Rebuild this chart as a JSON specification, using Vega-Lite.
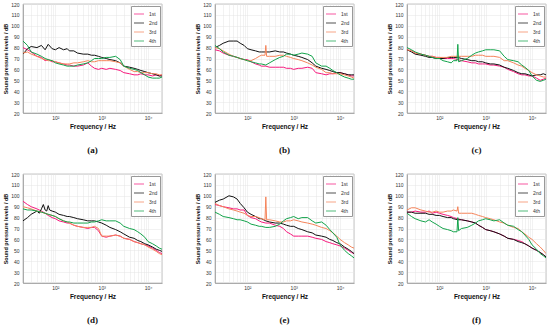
{
"$schema":"https://vega.github.io/schema/vega-lite/v6.json",
"padding":{"left":3,"top":1,"right":3,"bottom":2},
"background":"white",
"columns":3,
"spacing":{"row":16,"column":32},
"resolve":{"legend":{"color":"independent"}},
"data":{"values":[
{"p":"a","s":"1st","f":20,"v":80},{"p":"a","s":"1st","f":25,"v":78},{"p":"a","s":"1st","f":30,"v":76},{"p":"a","s":"1st","f":40,"v":72},{"p":"a","s":"1st","f":50,"v":71},{"p":"a","s":"1st","f":60,"v":68},{"p":"a","s":"1st","f":70,"v":69},{"p":"a","s":"1st","f":85,"v":67},{"p":"a","s":"1st","f":100,"v":67},{"p":"a","s":"1st","f":120,"v":66},{"p":"a","s":"1st","f":150,"v":65},{"p":"a","s":"1st","f":180,"v":64},{"p":"a","s":"1st","f":200,"v":64},{"p":"a","s":"1st","f":250,"v":63},{"p":"a","s":"1st","f":300,"v":63},{"p":"a","s":"1st","f":400,"v":64},{"p":"a","s":"1st","f":500,"v":66},{"p":"a","s":"1st","f":600,"v":63},{"p":"a","s":"1st","f":700,"v":61},{"p":"a","s":"1st","f":850,"v":60},{"p":"a","s":"1st","f":1000,"v":61},{"p":"a","s":"1st","f":1250,"v":60},{"p":"a","s":"1st","f":1500,"v":61},{"p":"a","s":"1st","f":2000,"v":60},{"p":"a","s":"1st","f":2500,"v":59},{"p":"a","s":"1st","f":3000,"v":57},{"p":"a","s":"1st","f":4000,"v":56},{"p":"a","s":"1st","f":5000,"v":55},{"p":"a","s":"1st","f":6000,"v":55},{"p":"a","s":"1st","f":7000,"v":56},{"p":"a","s":"1st","f":8500,"v":55},{"p":"a","s":"1st","f":10000,"v":55},{"p":"a","s":"1st","f":12500,"v":54},{"p":"a","s":"1st","f":15000,"v":55},{"p":"a","s":"1st","f":17500,"v":54},{"p":"a","s":"1st","f":20000,"v":55},
{"p":"a","s":"2nd","f":20,"v":74},{"p":"a","s":"2nd","f":25,"v":79},{"p":"a","s":"2nd","f":30,"v":81},{"p":"a","s":"2nd","f":40,"v":80},{"p":"a","s":"2nd","f":50,"v":82},{"p":"a","s":"2nd","f":60,"v":78},{"p":"a","s":"2nd","f":70,"v":83},{"p":"a","s":"2nd","f":85,"v":79},{"p":"a","s":"2nd","f":100,"v":78},{"p":"a","s":"2nd","f":120,"v":80},{"p":"a","s":"2nd","f":150,"v":78},{"p":"a","s":"2nd","f":180,"v":79},{"p":"a","s":"2nd","f":200,"v":77},{"p":"a","s":"2nd","f":250,"v":77},{"p":"a","s":"2nd","f":300,"v":75},{"p":"a","s":"2nd","f":400,"v":74},{"p":"a","s":"2nd","f":500,"v":74},{"p":"a","s":"2nd","f":600,"v":73},{"p":"a","s":"2nd","f":700,"v":73},{"p":"a","s":"2nd","f":850,"v":72},{"p":"a","s":"2nd","f":1000,"v":71},{"p":"a","s":"2nd","f":1250,"v":70},{"p":"a","s":"2nd","f":1500,"v":69},{"p":"a","s":"2nd","f":2000,"v":68},{"p":"a","s":"2nd","f":2500,"v":66},{"p":"a","s":"2nd","f":3000,"v":63},{"p":"a","s":"2nd","f":4000,"v":62},{"p":"a","s":"2nd","f":5000,"v":61},{"p":"a","s":"2nd","f":6000,"v":60},{"p":"a","s":"2nd","f":7000,"v":59},{"p":"a","s":"2nd","f":8500,"v":58},{"p":"a","s":"2nd","f":10000,"v":57},{"p":"a","s":"2nd","f":12500,"v":56},{"p":"a","s":"2nd","f":15000,"v":55},{"p":"a","s":"2nd","f":17500,"v":54},{"p":"a","s":"2nd","f":20000,"v":54},
{"p":"a","s":"3rd","f":20,"v":75},{"p":"a","s":"3rd","f":25,"v":76},{"p":"a","s":"3rd","f":30,"v":74},{"p":"a","s":"3rd","f":40,"v":72},{"p":"a","s":"3rd","f":50,"v":70},{"p":"a","s":"3rd","f":60,"v":69},{"p":"a","s":"3rd","f":70,"v":68},{"p":"a","s":"3rd","f":85,"v":68},{"p":"a","s":"3rd","f":100,"v":67},{"p":"a","s":"3rd","f":120,"v":66},{"p":"a","s":"3rd","f":150,"v":65},{"p":"a","s":"3rd","f":180,"v":65},{"p":"a","s":"3rd","f":200,"v":65},{"p":"a","s":"3rd","f":250,"v":66},{"p":"a","s":"3rd","f":300,"v":66},{"p":"a","s":"3rd","f":400,"v":67},{"p":"a","s":"3rd","f":500,"v":68},{"p":"a","s":"3rd","f":600,"v":67},{"p":"a","s":"3rd","f":700,"v":67},{"p":"a","s":"3rd","f":850,"v":68},{"p":"a","s":"3rd","f":1000,"v":68},{"p":"a","s":"3rd","f":1250,"v":68},{"p":"a","s":"3rd","f":1500,"v":68},{"p":"a","s":"3rd","f":2000,"v":67},{"p":"a","s":"3rd","f":2500,"v":66},{"p":"a","s":"3rd","f":3000,"v":63},{"p":"a","s":"3rd","f":4000,"v":60},{"p":"a","s":"3rd","f":5000,"v":58},{"p":"a","s":"3rd","f":6000,"v":58},{"p":"a","s":"3rd","f":7000,"v":57},{"p":"a","s":"3rd","f":8500,"v":57},{"p":"a","s":"3rd","f":10000,"v":57},{"p":"a","s":"3rd","f":12500,"v":56},{"p":"a","s":"3rd","f":15000,"v":56},{"p":"a","s":"3rd","f":17500,"v":55},{"p":"a","s":"3rd","f":20000,"v":55},
{"p":"a","s":"4th","f":20,"v":86},{"p":"a","s":"4th","f":25,"v":82},{"p":"a","s":"4th","f":30,"v":76},{"p":"a","s":"4th","f":40,"v":74},{"p":"a","s":"4th","f":50,"v":72},{"p":"a","s":"4th","f":60,"v":70},{"p":"a","s":"4th","f":70,"v":69},{"p":"a","s":"4th","f":85,"v":68},{"p":"a","s":"4th","f":100,"v":66},{"p":"a","s":"4th","f":120,"v":65},{"p":"a","s":"4th","f":150,"v":64},{"p":"a","s":"4th","f":180,"v":63},{"p":"a","s":"4th","f":200,"v":63},{"p":"a","s":"4th","f":250,"v":63},{"p":"a","s":"4th","f":300,"v":64},{"p":"a","s":"4th","f":400,"v":65},{"p":"a","s":"4th","f":500,"v":66},{"p":"a","s":"4th","f":600,"v":68},{"p":"a","s":"4th","f":700,"v":70},{"p":"a","s":"4th","f":850,"v":70},{"p":"a","s":"4th","f":1000,"v":70},{"p":"a","s":"4th","f":1250,"v":71},{"p":"a","s":"4th","f":1500,"v":71},{"p":"a","s":"4th","f":2000,"v":72},{"p":"a","s":"4th","f":2500,"v":69},{"p":"a","s":"4th","f":3000,"v":63},{"p":"a","s":"4th","f":4000,"v":61},{"p":"a","s":"4th","f":5000,"v":60},{"p":"a","s":"4th","f":6000,"v":59},{"p":"a","s":"4th","f":7000,"v":57},{"p":"a","s":"4th","f":8500,"v":55},{"p":"a","s":"4th","f":10000,"v":53},{"p":"a","s":"4th","f":12500,"v":52},{"p":"a","s":"4th","f":15000,"v":52},{"p":"a","s":"4th","f":17500,"v":52},{"p":"a","s":"4th","f":20000,"v":53},
{"p":"b","s":"1st","f":20,"v":78},{"p":"b","s":"1st","f":25,"v":77},{"p":"b","s":"1st","f":30,"v":75},{"p":"b","s":"1st","f":40,"v":73},{"p":"b","s":"1st","f":50,"v":72},{"p":"b","s":"1st","f":60,"v":71},{"p":"b","s":"1st","f":70,"v":70},{"p":"b","s":"1st","f":85,"v":69},{"p":"b","s":"1st","f":100,"v":69},{"p":"b","s":"1st","f":120,"v":67},{"p":"b","s":"1st","f":150,"v":65},{"p":"b","s":"1st","f":180,"v":64},{"p":"b","s":"1st","f":200,"v":63},{"p":"b","s":"1st","f":250,"v":63},{"p":"b","s":"1st","f":300,"v":62},{"p":"b","s":"1st","f":400,"v":62},{"p":"b","s":"1st","f":500,"v":62},{"p":"b","s":"1st","f":600,"v":62},{"p":"b","s":"1st","f":700,"v":61},{"p":"b","s":"1st","f":850,"v":61},{"p":"b","s":"1st","f":1000,"v":60},{"p":"b","s":"1st","f":1250,"v":61},{"p":"b","s":"1st","f":1500,"v":61},{"p":"b","s":"1st","f":2000,"v":62},{"p":"b","s":"1st","f":2500,"v":61},{"p":"b","s":"1st","f":3000,"v":57},{"p":"b","s":"1st","f":4000,"v":56},{"p":"b","s":"1st","f":5000,"v":55},{"p":"b","s":"1st","f":6000,"v":56},{"p":"b","s":"1st","f":7000,"v":56},{"p":"b","s":"1st","f":8500,"v":57},{"p":"b","s":"1st","f":10000,"v":57},{"p":"b","s":"1st","f":12500,"v":56},{"p":"b","s":"1st","f":15000,"v":55},{"p":"b","s":"1st","f":17500,"v":54},{"p":"b","s":"1st","f":20000,"v":54},
{"p":"b","s":"2nd","f":20,"v":80},{"p":"b","s":"2nd","f":25,"v":82},{"p":"b","s":"2nd","f":30,"v":84},{"p":"b","s":"2nd","f":40,"v":86},{"p":"b","s":"2nd","f":50,"v":86},{"p":"b","s":"2nd","f":60,"v":86},{"p":"b","s":"2nd","f":70,"v":84},{"p":"b","s":"2nd","f":85,"v":82},{"p":"b","s":"2nd","f":100,"v":79},{"p":"b","s":"2nd","f":120,"v":78},{"p":"b","s":"2nd","f":150,"v":77},{"p":"b","s":"2nd","f":180,"v":76},{"p":"b","s":"2nd","f":200,"v":76},{"p":"b","s":"2nd","f":250,"v":76},{"p":"b","s":"2nd","f":300,"v":76},{"p":"b","s":"2nd","f":400,"v":77},{"p":"b","s":"2nd","f":500,"v":76},{"p":"b","s":"2nd","f":600,"v":76},{"p":"b","s":"2nd","f":700,"v":75},{"p":"b","s":"2nd","f":850,"v":74},{"p":"b","s":"2nd","f":1000,"v":73},{"p":"b","s":"2nd","f":1250,"v":72},{"p":"b","s":"2nd","f":1500,"v":71},{"p":"b","s":"2nd","f":2000,"v":69},{"p":"b","s":"2nd","f":2500,"v":66},{"p":"b","s":"2nd","f":3000,"v":63},{"p":"b","s":"2nd","f":4000,"v":61},{"p":"b","s":"2nd","f":5000,"v":60},{"p":"b","s":"2nd","f":6000,"v":59},{"p":"b","s":"2nd","f":7000,"v":58},{"p":"b","s":"2nd","f":8500,"v":57},{"p":"b","s":"2nd","f":10000,"v":57},{"p":"b","s":"2nd","f":12500,"v":56},{"p":"b","s":"2nd","f":15000,"v":55},{"p":"b","s":"2nd","f":17500,"v":55},{"p":"b","s":"2nd","f":20000,"v":55},
{"p":"b","s":"3rd","f":20,"v":80},{"p":"b","s":"3rd","f":25,"v":79},{"p":"b","s":"3rd","f":30,"v":77},{"p":"b","s":"3rd","f":40,"v":74},{"p":"b","s":"3rd","f":50,"v":72},{"p":"b","s":"3rd","f":60,"v":71},{"p":"b","s":"3rd","f":70,"v":70},{"p":"b","s":"3rd","f":85,"v":69},{"p":"b","s":"3rd","f":100,"v":68},{"p":"b","s":"3rd","f":120,"v":68},{"p":"b","s":"3rd","f":150,"v":70},{"p":"b","s":"3rd","f":180,"v":72},{"p":"b","s":"3rd","f":200,"v":73},{"p":"b","s":"3rd","f":240,"v":73},{"p":"b","s":"3rd","f":250,"v":82},{"p":"b","s":"3rd","f":260,"v":72},{"p":"b","s":"3rd","f":300,"v":72},{"p":"b","s":"3rd","f":400,"v":72},{"p":"b","s":"3rd","f":500,"v":73},{"p":"b","s":"3rd","f":600,"v":73},{"p":"b","s":"3rd","f":700,"v":72},{"p":"b","s":"3rd","f":850,"v":71},{"p":"b","s":"3rd","f":1000,"v":70},{"p":"b","s":"3rd","f":1250,"v":69},{"p":"b","s":"3rd","f":1500,"v":68},{"p":"b","s":"3rd","f":2000,"v":66},{"p":"b","s":"3rd","f":2500,"v":64},{"p":"b","s":"3rd","f":3000,"v":62},{"p":"b","s":"3rd","f":4000,"v":60},{"p":"b","s":"3rd","f":5000,"v":57},{"p":"b","s":"3rd","f":6000,"v":57},{"p":"b","s":"3rd","f":7000,"v":56},{"p":"b","s":"3rd","f":8500,"v":56},{"p":"b","s":"3rd","f":10000,"v":56},{"p":"b","s":"3rd","f":12500,"v":55},{"p":"b","s":"3rd","f":15000,"v":54},{"p":"b","s":"3rd","f":17500,"v":53},{"p":"b","s":"3rd","f":20000,"v":52},
{"p":"b","s":"4th","f":20,"v":82},{"p":"b","s":"4th","f":25,"v":79},{"p":"b","s":"4th","f":30,"v":76},{"p":"b","s":"4th","f":40,"v":73},{"p":"b","s":"4th","f":50,"v":72},{"p":"b","s":"4th","f":60,"v":71},{"p":"b","s":"4th","f":70,"v":70},{"p":"b","s":"4th","f":85,"v":69},{"p":"b","s":"4th","f":100,"v":68},{"p":"b","s":"4th","f":120,"v":67},{"p":"b","s":"4th","f":150,"v":66},{"p":"b","s":"4th","f":180,"v":65},{"p":"b","s":"4th","f":200,"v":65},{"p":"b","s":"4th","f":250,"v":64},{"p":"b","s":"4th","f":300,"v":66},{"p":"b","s":"4th","f":400,"v":69},{"p":"b","s":"4th","f":500,"v":71},{"p":"b","s":"4th","f":600,"v":72},{"p":"b","s":"4th","f":700,"v":74},{"p":"b","s":"4th","f":850,"v":74},{"p":"b","s":"4th","f":1000,"v":73},{"p":"b","s":"4th","f":1250,"v":74},{"p":"b","s":"4th","f":1500,"v":75},{"p":"b","s":"4th","f":2000,"v":74},{"p":"b","s":"4th","f":2500,"v":72},{"p":"b","s":"4th","f":3000,"v":66},{"p":"b","s":"4th","f":4000,"v":63},{"p":"b","s":"4th","f":5000,"v":63},{"p":"b","s":"4th","f":6000,"v":61},{"p":"b","s":"4th","f":7000,"v":59},{"p":"b","s":"4th","f":8500,"v":57},{"p":"b","s":"4th","f":10000,"v":55},{"p":"b","s":"4th","f":12500,"v":53},{"p":"b","s":"4th","f":15000,"v":52},{"p":"b","s":"4th","f":17500,"v":51},{"p":"b","s":"4th","f":20000,"v":51},
{"p":"c","s":"1st","f":20,"v":78},{"p":"c","s":"1st","f":25,"v":77},{"p":"c","s":"1st","f":30,"v":75},{"p":"c","s":"1st","f":40,"v":74},{"p":"c","s":"1st","f":50,"v":73},{"p":"c","s":"1st","f":60,"v":72},{"p":"c","s":"1st","f":70,"v":72},{"p":"c","s":"1st","f":85,"v":71},{"p":"c","s":"1st","f":100,"v":71},{"p":"c","s":"1st","f":120,"v":70},{"p":"c","s":"1st","f":150,"v":70},{"p":"c","s":"1st","f":180,"v":70},{"p":"c","s":"1st","f":200,"v":70},{"p":"c","s":"1st","f":250,"v":69},{"p":"c","s":"1st","f":300,"v":68},{"p":"c","s":"1st","f":400,"v":67},{"p":"c","s":"1st","f":500,"v":66},{"p":"c","s":"1st","f":600,"v":66},{"p":"c","s":"1st","f":700,"v":65},{"p":"c","s":"1st","f":850,"v":65},{"p":"c","s":"1st","f":1000,"v":65},{"p":"c","s":"1st","f":1250,"v":64},{"p":"c","s":"1st","f":1500,"v":64},{"p":"c","s":"1st","f":2000,"v":63},{"p":"c","s":"1st","f":2500,"v":62},{"p":"c","s":"1st","f":3000,"v":60},{"p":"c","s":"1st","f":4000,"v":58},{"p":"c","s":"1st","f":5000,"v":56},{"p":"c","s":"1st","f":6000,"v":55},{"p":"c","s":"1st","f":7000,"v":55},{"p":"c","s":"1st","f":8500,"v":54},{"p":"c","s":"1st","f":10000,"v":54},{"p":"c","s":"1st","f":12500,"v":52},{"p":"c","s":"1st","f":15000,"v":50},{"p":"c","s":"1st","f":17500,"v":51},{"p":"c","s":"1st","f":20000,"v":52},
{"p":"c","s":"2nd","f":20,"v":78},{"p":"c","s":"2nd","f":25,"v":76},{"p":"c","s":"2nd","f":30,"v":74},{"p":"c","s":"2nd","f":40,"v":73},{"p":"c","s":"2nd","f":50,"v":72},{"p":"c","s":"2nd","f":60,"v":71},{"p":"c","s":"2nd","f":70,"v":71},{"p":"c","s":"2nd","f":85,"v":70},{"p":"c","s":"2nd","f":100,"v":70},{"p":"c","s":"2nd","f":120,"v":70},{"p":"c","s":"2nd","f":150,"v":71},{"p":"c","s":"2nd","f":180,"v":71},{"p":"c","s":"2nd","f":200,"v":71},{"p":"c","s":"2nd","f":250,"v":71},{"p":"c","s":"2nd","f":300,"v":70},{"p":"c","s":"2nd","f":400,"v":69},{"p":"c","s":"2nd","f":500,"v":68},{"p":"c","s":"2nd","f":600,"v":68},{"p":"c","s":"2nd","f":700,"v":67},{"p":"c","s":"2nd","f":850,"v":67},{"p":"c","s":"2nd","f":1000,"v":66},{"p":"c","s":"2nd","f":1250,"v":65},{"p":"c","s":"2nd","f":1500,"v":65},{"p":"c","s":"2nd","f":2000,"v":64},{"p":"c","s":"2nd","f":2500,"v":62},{"p":"c","s":"2nd","f":3000,"v":61},{"p":"c","s":"2nd","f":4000,"v":59},{"p":"c","s":"2nd","f":5000,"v":57},{"p":"c","s":"2nd","f":6000,"v":56},{"p":"c","s":"2nd","f":7000,"v":56},{"p":"c","s":"2nd","f":8500,"v":55},{"p":"c","s":"2nd","f":10000,"v":54},{"p":"c","s":"2nd","f":12500,"v":55},{"p":"c","s":"2nd","f":15000,"v":55},{"p":"c","s":"2nd","f":17500,"v":56},{"p":"c","s":"2nd","f":20000,"v":55},
{"p":"c","s":"3rd","f":20,"v":78},{"p":"c","s":"3rd","f":25,"v":77},{"p":"c","s":"3rd","f":30,"v":75},{"p":"c","s":"3rd","f":40,"v":74},{"p":"c","s":"3rd","f":50,"v":73},{"p":"c","s":"3rd","f":60,"v":72},{"p":"c","s":"3rd","f":70,"v":72},{"p":"c","s":"3rd","f":85,"v":71},{"p":"c","s":"3rd","f":100,"v":71},{"p":"c","s":"3rd","f":120,"v":71},{"p":"c","s":"3rd","f":150,"v":71},{"p":"c","s":"3rd","f":180,"v":72},{"p":"c","s":"3rd","f":200,"v":72},{"p":"c","s":"3rd","f":250,"v":72},{"p":"c","s":"3rd","f":300,"v":72},{"p":"c","s":"3rd","f":400,"v":72},{"p":"c","s":"3rd","f":500,"v":72},{"p":"c","s":"3rd","f":600,"v":73},{"p":"c","s":"3rd","f":700,"v":73},{"p":"c","s":"3rd","f":850,"v":73},{"p":"c","s":"3rd","f":1000,"v":72},{"p":"c","s":"3rd","f":1250,"v":72},{"p":"c","s":"3rd","f":1500,"v":72},{"p":"c","s":"3rd","f":2000,"v":71},{"p":"c","s":"3rd","f":2500,"v":68},{"p":"c","s":"3rd","f":3000,"v":68},{"p":"c","s":"3rd","f":4000,"v":66},{"p":"c","s":"3rd","f":5000,"v":64},{"p":"c","s":"3rd","f":6000,"v":63},{"p":"c","s":"3rd","f":7000,"v":61},{"p":"c","s":"3rd","f":8500,"v":59},{"p":"c","s":"3rd","f":10000,"v":57},{"p":"c","s":"3rd","f":12500,"v":55},{"p":"c","s":"3rd","f":15000,"v":54},{"p":"c","s":"3rd","f":17500,"v":53},{"p":"c","s":"3rd","f":20000,"v":53},
{"p":"c","s":"4th","f":20,"v":80},{"p":"c","s":"4th","f":25,"v":78},{"p":"c","s":"4th","f":30,"v":76},{"p":"c","s":"4th","f":40,"v":74},{"p":"c","s":"4th","f":50,"v":73},{"p":"c","s":"4th","f":60,"v":72},{"p":"c","s":"4th","f":70,"v":71},{"p":"c","s":"4th","f":85,"v":70},{"p":"c","s":"4th","f":100,"v":70},{"p":"c","s":"4th","f":120,"v":68},{"p":"c","s":"4th","f":150,"v":67},{"p":"c","s":"4th","f":180,"v":66},{"p":"c","s":"4th","f":200,"v":68},{"p":"c","s":"4th","f":240,"v":68},{"p":"c","s":"4th","f":250,"v":83},{"p":"c","s":"4th","f":260,"v":67},{"p":"c","s":"4th","f":300,"v":68},{"p":"c","s":"4th","f":400,"v":70},{"p":"c","s":"4th","f":500,"v":73},{"p":"c","s":"4th","f":600,"v":75},{"p":"c","s":"4th","f":700,"v":76},{"p":"c","s":"4th","f":850,"v":77},{"p":"c","s":"4th","f":1000,"v":78},{"p":"c","s":"4th","f":1250,"v":78},{"p":"c","s":"4th","f":1500,"v":78},{"p":"c","s":"4th","f":2000,"v":77},{"p":"c","s":"4th","f":2500,"v":72},{"p":"c","s":"4th","f":3000,"v":69},{"p":"c","s":"4th","f":4000,"v":68},{"p":"c","s":"4th","f":5000,"v":67},{"p":"c","s":"4th","f":6000,"v":64},{"p":"c","s":"4th","f":7000,"v":62},{"p":"c","s":"4th","f":8500,"v":59},{"p":"c","s":"4th","f":10000,"v":54},{"p":"c","s":"4th","f":12500,"v":50},{"p":"c","s":"4th","f":15000,"v":49},{"p":"c","s":"4th","f":17500,"v":50},{"p":"c","s":"4th","f":20000,"v":51},
{"p":"d","s":"1st","f":20,"v":95},{"p":"d","s":"1st","f":25,"v":92},{"p":"d","s":"1st","f":30,"v":90},{"p":"d","s":"1st","f":40,"v":88},{"p":"d","s":"1st","f":50,"v":86},{"p":"d","s":"1st","f":60,"v":84},{"p":"d","s":"1st","f":70,"v":82},{"p":"d","s":"1st","f":85,"v":80},{"p":"d","s":"1st","f":100,"v":79},{"p":"d","s":"1st","f":120,"v":77},{"p":"d","s":"1st","f":150,"v":76},{"p":"d","s":"1st","f":180,"v":75},{"p":"d","s":"1st","f":200,"v":75},{"p":"d","s":"1st","f":250,"v":73},{"p":"d","s":"1st","f":300,"v":72},{"p":"d","s":"1st","f":400,"v":71},{"p":"d","s":"1st","f":500,"v":70},{"p":"d","s":"1st","f":600,"v":71},{"p":"d","s":"1st","f":700,"v":71},{"p":"d","s":"1st","f":850,"v":68},{"p":"d","s":"1st","f":1000,"v":63},{"p":"d","s":"1st","f":1250,"v":62},{"p":"d","s":"1st","f":1500,"v":63},{"p":"d","s":"1st","f":2000,"v":64},{"p":"d","s":"1st","f":2500,"v":63},{"p":"d","s":"1st","f":3000,"v":61},{"p":"d","s":"1st","f":4000,"v":60},{"p":"d","s":"1st","f":5000,"v":58},{"p":"d","s":"1st","f":6000,"v":57},{"p":"d","s":"1st","f":7000,"v":56},{"p":"d","s":"1st","f":8500,"v":55},{"p":"d","s":"1st","f":10000,"v":54},{"p":"d","s":"1st","f":12500,"v":52},{"p":"d","s":"1st","f":15000,"v":50},{"p":"d","s":"1st","f":17500,"v":48},{"p":"d","s":"1st","f":20000,"v":47},
{"p":"d","s":"2nd","f":20,"v":77},{"p":"d","s":"2nd","f":25,"v":80},{"p":"d","s":"2nd","f":30,"v":83},{"p":"d","s":"2nd","f":40,"v":86},{"p":"d","s":"2nd","f":45,"v":84},{"p":"d","s":"2nd","f":50,"v":88},{"p":"d","s":"2nd","f":55,"v":92},{"p":"d","s":"2nd","f":60,"v":87},{"p":"d","s":"2nd","f":65,"v":86},{"p":"d","s":"2nd","f":70,"v":91},{"p":"d","s":"2nd","f":75,"v":87},{"p":"d","s":"2nd","f":85,"v":86},{"p":"d","s":"2nd","f":100,"v":85},{"p":"d","s":"2nd","f":120,"v":83},{"p":"d","s":"2nd","f":150,"v":82},{"p":"d","s":"2nd","f":180,"v":81},{"p":"d","s":"2nd","f":200,"v":81},{"p":"d","s":"2nd","f":250,"v":80},{"p":"d","s":"2nd","f":300,"v":79},{"p":"d","s":"2nd","f":400,"v":78},{"p":"d","s":"2nd","f":500,"v":77},{"p":"d","s":"2nd","f":600,"v":77},{"p":"d","s":"2nd","f":700,"v":77},{"p":"d","s":"2nd","f":850,"v":76},{"p":"d","s":"2nd","f":1000,"v":75},{"p":"d","s":"2nd","f":1250,"v":73},{"p":"d","s":"2nd","f":1500,"v":71},{"p":"d","s":"2nd","f":2000,"v":69},{"p":"d","s":"2nd","f":2500,"v":67},{"p":"d","s":"2nd","f":3000,"v":65},{"p":"d","s":"2nd","f":4000,"v":62},{"p":"d","s":"2nd","f":5000,"v":61},{"p":"d","s":"2nd","f":6000,"v":59},{"p":"d","s":"2nd","f":7000,"v":58},{"p":"d","s":"2nd","f":8500,"v":56},{"p":"d","s":"2nd","f":10000,"v":55},{"p":"d","s":"2nd","f":12500,"v":53},{"p":"d","s":"2nd","f":15000,"v":51},{"p":"d","s":"2nd","f":17500,"v":50},{"p":"d","s":"2nd","f":20000,"v":49},
{"p":"d","s":"3rd","f":20,"v":90},{"p":"d","s":"3rd","f":25,"v":89},{"p":"d","s":"3rd","f":30,"v":88},{"p":"d","s":"3rd","f":40,"v":86},{"p":"d","s":"3rd","f":50,"v":85},{"p":"d","s":"3rd","f":60,"v":84},{"p":"d","s":"3rd","f":70,"v":83},{"p":"d","s":"3rd","f":85,"v":82},{"p":"d","s":"3rd","f":100,"v":81},{"p":"d","s":"3rd","f":120,"v":79},{"p":"d","s":"3rd","f":150,"v":77},{"p":"d","s":"3rd","f":180,"v":76},{"p":"d","s":"3rd","f":200,"v":75},{"p":"d","s":"3rd","f":250,"v":73},{"p":"d","s":"3rd","f":300,"v":72},{"p":"d","s":"3rd","f":400,"v":71},{"p":"d","s":"3rd","f":500,"v":71},{"p":"d","s":"3rd","f":600,"v":71},{"p":"d","s":"3rd","f":700,"v":72},{"p":"d","s":"3rd","f":850,"v":70},{"p":"d","s":"3rd","f":1000,"v":63},{"p":"d","s":"3rd","f":1250,"v":63},{"p":"d","s":"3rd","f":1500,"v":63},{"p":"d","s":"3rd","f":2000,"v":64},{"p":"d","s":"3rd","f":2500,"v":63},{"p":"d","s":"3rd","f":3000,"v":61},{"p":"d","s":"3rd","f":4000,"v":60},{"p":"d","s":"3rd","f":5000,"v":58},{"p":"d","s":"3rd","f":6000,"v":57},{"p":"d","s":"3rd","f":7000,"v":56},{"p":"d","s":"3rd","f":8500,"v":55},{"p":"d","s":"3rd","f":10000,"v":53},{"p":"d","s":"3rd","f":12500,"v":51},{"p":"d","s":"3rd","f":15000,"v":49},{"p":"d","s":"3rd","f":17500,"v":47},{"p":"d","s":"3rd","f":20000,"v":46},
{"p":"d","s":"4th","f":20,"v":88},{"p":"d","s":"4th","f":25,"v":87},{"p":"d","s":"4th","f":30,"v":87},{"p":"d","s":"4th","f":40,"v":86},{"p":"d","s":"4th","f":50,"v":85},{"p":"d","s":"4th","f":60,"v":84},{"p":"d","s":"4th","f":70,"v":83},{"p":"d","s":"4th","f":85,"v":82},{"p":"d","s":"4th","f":100,"v":81},{"p":"d","s":"4th","f":120,"v":79},{"p":"d","s":"4th","f":150,"v":77},{"p":"d","s":"4th","f":180,"v":76},{"p":"d","s":"4th","f":200,"v":76},{"p":"d","s":"4th","f":250,"v":75},{"p":"d","s":"4th","f":300,"v":75},{"p":"d","s":"4th","f":400,"v":75},{"p":"d","s":"4th","f":500,"v":75},{"p":"d","s":"4th","f":600,"v":76},{"p":"d","s":"4th","f":700,"v":76},{"p":"d","s":"4th","f":850,"v":77},{"p":"d","s":"4th","f":1000,"v":78},{"p":"d","s":"4th","f":1250,"v":77},{"p":"d","s":"4th","f":1500,"v":77},{"p":"d","s":"4th","f":2000,"v":77},{"p":"d","s":"4th","f":2500,"v":75},{"p":"d","s":"4th","f":3000,"v":72},{"p":"d","s":"4th","f":4000,"v":70},{"p":"d","s":"4th","f":5000,"v":69},{"p":"d","s":"4th","f":6000,"v":67},{"p":"d","s":"4th","f":7000,"v":65},{"p":"d","s":"4th","f":8500,"v":62},{"p":"d","s":"4th","f":10000,"v":58},{"p":"d","s":"4th","f":12500,"v":56},{"p":"d","s":"4th","f":15000,"v":54},{"p":"d","s":"4th","f":17500,"v":52},{"p":"d","s":"4th","f":20000,"v":51},
{"p":"e","s":"1st","f":20,"v":92},{"p":"e","s":"1st","f":25,"v":91},{"p":"e","s":"1st","f":30,"v":90},{"p":"e","s":"1st","f":40,"v":89},{"p":"e","s":"1st","f":50,"v":88},{"p":"e","s":"1st","f":60,"v":88},{"p":"e","s":"1st","f":70,"v":87},{"p":"e","s":"1st","f":85,"v":87},{"p":"e","s":"1st","f":100,"v":82},{"p":"e","s":"1st","f":120,"v":80},{"p":"e","s":"1st","f":150,"v":79},{"p":"e","s":"1st","f":180,"v":77},{"p":"e","s":"1st","f":200,"v":76},{"p":"e","s":"1st","f":250,"v":75},{"p":"e","s":"1st","f":300,"v":75},{"p":"e","s":"1st","f":400,"v":73},{"p":"e","s":"1st","f":500,"v":72},{"p":"e","s":"1st","f":600,"v":70},{"p":"e","s":"1st","f":700,"v":67},{"p":"e","s":"1st","f":850,"v":65},{"p":"e","s":"1st","f":1000,"v":63},{"p":"e","s":"1st","f":1250,"v":63},{"p":"e","s":"1st","f":1500,"v":63},{"p":"e","s":"1st","f":2000,"v":63},{"p":"e","s":"1st","f":2500,"v":62},{"p":"e","s":"1st","f":3000,"v":61},{"p":"e","s":"1st","f":4000,"v":60},{"p":"e","s":"1st","f":5000,"v":58},{"p":"e","s":"1st","f":6000,"v":57},{"p":"e","s":"1st","f":7000,"v":56},{"p":"e","s":"1st","f":8500,"v":55},{"p":"e","s":"1st","f":10000,"v":54},{"p":"e","s":"1st","f":12500,"v":52},{"p":"e","s":"1st","f":15000,"v":50},{"p":"e","s":"1st","f":17500,"v":48},{"p":"e","s":"1st","f":20000,"v":47},
{"p":"e","s":"2nd","f":20,"v":94},{"p":"e","s":"2nd","f":25,"v":96},{"p":"e","s":"2nd","f":30,"v":97},{"p":"e","s":"2nd","f":40,"v":100},{"p":"e","s":"2nd","f":50,"v":99},{"p":"e","s":"2nd","f":60,"v":97},{"p":"e","s":"2nd","f":70,"v":93},{"p":"e","s":"2nd","f":85,"v":89},{"p":"e","s":"2nd","f":100,"v":85},{"p":"e","s":"2nd","f":120,"v":83},{"p":"e","s":"2nd","f":150,"v":81},{"p":"e","s":"2nd","f":180,"v":79},{"p":"e","s":"2nd","f":200,"v":79},{"p":"e","s":"2nd","f":250,"v":77},{"p":"e","s":"2nd","f":300,"v":76},{"p":"e","s":"2nd","f":400,"v":75},{"p":"e","s":"2nd","f":500,"v":75},{"p":"e","s":"2nd","f":600,"v":74},{"p":"e","s":"2nd","f":700,"v":73},{"p":"e","s":"2nd","f":850,"v":72},{"p":"e","s":"2nd","f":1000,"v":72},{"p":"e","s":"2nd","f":1250,"v":70},{"p":"e","s":"2nd","f":1500,"v":69},{"p":"e","s":"2nd","f":2000,"v":67},{"p":"e","s":"2nd","f":2500,"v":66},{"p":"e","s":"2nd","f":3000,"v":64},{"p":"e","s":"2nd","f":4000,"v":63},{"p":"e","s":"2nd","f":5000,"v":62},{"p":"e","s":"2nd","f":6000,"v":60},{"p":"e","s":"2nd","f":7000,"v":59},{"p":"e","s":"2nd","f":8500,"v":57},{"p":"e","s":"2nd","f":10000,"v":56},{"p":"e","s":"2nd","f":12500,"v":53},{"p":"e","s":"2nd","f":15000,"v":51},{"p":"e","s":"2nd","f":17500,"v":49},{"p":"e","s":"2nd","f":20000,"v":47},
{"p":"e","s":"3rd","f":20,"v":93},{"p":"e","s":"3rd","f":25,"v":91},{"p":"e","s":"3rd","f":30,"v":90},{"p":"e","s":"3rd","f":40,"v":88},{"p":"e","s":"3rd","f":50,"v":87},{"p":"e","s":"3rd","f":60,"v":86},{"p":"e","s":"3rd","f":70,"v":85},{"p":"e","s":"3rd","f":85,"v":84},{"p":"e","s":"3rd","f":100,"v":82},{"p":"e","s":"3rd","f":120,"v":81},{"p":"e","s":"3rd","f":150,"v":81},{"p":"e","s":"3rd","f":180,"v":80},{"p":"e","s":"3rd","f":200,"v":79},{"p":"e","s":"3rd","f":240,"v":78},{"p":"e","s":"3rd","f":250,"v":99},{"p":"e","s":"3rd","f":260,"v":78},{"p":"e","s":"3rd","f":300,"v":78},{"p":"e","s":"3rd","f":400,"v":77},{"p":"e","s":"3rd","f":500,"v":76},{"p":"e","s":"3rd","f":600,"v":76},{"p":"e","s":"3rd","f":700,"v":77},{"p":"e","s":"3rd","f":850,"v":77},{"p":"e","s":"3rd","f":1000,"v":78},{"p":"e","s":"3rd","f":1250,"v":77},{"p":"e","s":"3rd","f":1500,"v":76},{"p":"e","s":"3rd","f":2000,"v":75},{"p":"e","s":"3rd","f":2500,"v":74},{"p":"e","s":"3rd","f":3000,"v":73},{"p":"e","s":"3rd","f":4000,"v":71},{"p":"e","s":"3rd","f":5000,"v":70},{"p":"e","s":"3rd","f":6000,"v":68},{"p":"e","s":"3rd","f":7000,"v":66},{"p":"e","s":"3rd","f":8500,"v":63},{"p":"e","s":"3rd","f":10000,"v":60},{"p":"e","s":"3rd","f":12500,"v":57},{"p":"e","s":"3rd","f":15000,"v":55},{"p":"e","s":"3rd","f":17500,"v":53},{"p":"e","s":"3rd","f":20000,"v":52},
{"p":"e","s":"4th","f":20,"v":85},{"p":"e","s":"4th","f":25,"v":83},{"p":"e","s":"4th","f":30,"v":81},{"p":"e","s":"4th","f":40,"v":80},{"p":"e","s":"4th","f":50,"v":79},{"p":"e","s":"4th","f":60,"v":78},{"p":"e","s":"4th","f":70,"v":78},{"p":"e","s":"4th","f":85,"v":77},{"p":"e","s":"4th","f":100,"v":76},{"p":"e","s":"4th","f":120,"v":74},{"p":"e","s":"4th","f":150,"v":73},{"p":"e","s":"4th","f":180,"v":72},{"p":"e","s":"4th","f":200,"v":72},{"p":"e","s":"4th","f":250,"v":71},{"p":"e","s":"4th","f":300,"v":71},{"p":"e","s":"4th","f":400,"v":72},{"p":"e","s":"4th","f":500,"v":74},{"p":"e","s":"4th","f":600,"v":77},{"p":"e","s":"4th","f":700,"v":79},{"p":"e","s":"4th","f":850,"v":80},{"p":"e","s":"4th","f":1000,"v":81},{"p":"e","s":"4th","f":1250,"v":79},{"p":"e","s":"4th","f":1500,"v":80},{"p":"e","s":"4th","f":2000,"v":80},{"p":"e","s":"4th","f":2500,"v":77},{"p":"e","s":"4th","f":3000,"v":75},{"p":"e","s":"4th","f":4000,"v":76},{"p":"e","s":"4th","f":5000,"v":73},{"p":"e","s":"4th","f":6000,"v":69},{"p":"e","s":"4th","f":7000,"v":66},{"p":"e","s":"4th","f":8500,"v":62},{"p":"e","s":"4th","f":10000,"v":55},{"p":"e","s":"4th","f":12500,"v":50},{"p":"e","s":"4th","f":15000,"v":47},{"p":"e","s":"4th","f":17500,"v":45},{"p":"e","s":"4th","f":20000,"v":43},
{"p":"f","s":"1st","f":20,"v":85},{"p":"f","s":"1st","f":25,"v":85},{"p":"f","s":"1st","f":30,"v":86},{"p":"f","s":"1st","f":40,"v":85},{"p":"f","s":"1st","f":50,"v":85},{"p":"f","s":"1st","f":60,"v":86},{"p":"f","s":"1st","f":70,"v":84},{"p":"f","s":"1st","f":85,"v":85},{"p":"f","s":"1st","f":100,"v":84},{"p":"f","s":"1st","f":120,"v":83},{"p":"f","s":"1st","f":150,"v":82},{"p":"f","s":"1st","f":180,"v":81},{"p":"f","s":"1st","f":200,"v":80},{"p":"f","s":"1st","f":250,"v":79},{"p":"f","s":"1st","f":300,"v":78},{"p":"f","s":"1st","f":400,"v":77},{"p":"f","s":"1st","f":500,"v":76},{"p":"f","s":"1st","f":600,"v":75},{"p":"f","s":"1st","f":700,"v":73},{"p":"f","s":"1st","f":850,"v":71},{"p":"f","s":"1st","f":1000,"v":69},{"p":"f","s":"1st","f":1250,"v":68},{"p":"f","s":"1st","f":1500,"v":67},{"p":"f","s":"1st","f":2000,"v":65},{"p":"f","s":"1st","f":2500,"v":63},{"p":"f","s":"1st","f":3000,"v":61},{"p":"f","s":"1st","f":4000,"v":60},{"p":"f","s":"1st","f":5000,"v":59},{"p":"f","s":"1st","f":6000,"v":58},{"p":"f","s":"1st","f":7000,"v":56},{"p":"f","s":"1st","f":8500,"v":54},{"p":"f","s":"1st","f":10000,"v":52},{"p":"f","s":"1st","f":12500,"v":50},{"p":"f","s":"1st","f":15000,"v":48},{"p":"f","s":"1st","f":17500,"v":46},{"p":"f","s":"1st","f":20000,"v":44},
{"p":"f","s":"2nd","f":20,"v":85},{"p":"f","s":"2nd","f":25,"v":85},{"p":"f","s":"2nd","f":30,"v":84},{"p":"f","s":"2nd","f":40,"v":84},{"p":"f","s":"2nd","f":50,"v":84},{"p":"f","s":"2nd","f":60,"v":83},{"p":"f","s":"2nd","f":70,"v":83},{"p":"f","s":"2nd","f":85,"v":82},{"p":"f","s":"2nd","f":100,"v":82},{"p":"f","s":"2nd","f":120,"v":81},{"p":"f","s":"2nd","f":150,"v":80},{"p":"f","s":"2nd","f":180,"v":80},{"p":"f","s":"2nd","f":200,"v":79},{"p":"f","s":"2nd","f":250,"v":78},{"p":"f","s":"2nd","f":300,"v":78},{"p":"f","s":"2nd","f":400,"v":77},{"p":"f","s":"2nd","f":500,"v":76},{"p":"f","s":"2nd","f":600,"v":75},{"p":"f","s":"2nd","f":700,"v":73},{"p":"f","s":"2nd","f":850,"v":71},{"p":"f","s":"2nd","f":1000,"v":69},{"p":"f","s":"2nd","f":1250,"v":68},{"p":"f","s":"2nd","f":1500,"v":67},{"p":"f","s":"2nd","f":2000,"v":65},{"p":"f","s":"2nd","f":2500,"v":63},{"p":"f","s":"2nd","f":3000,"v":61},{"p":"f","s":"2nd","f":4000,"v":60},{"p":"f","s":"2nd","f":5000,"v":58},{"p":"f","s":"2nd","f":6000,"v":57},{"p":"f","s":"2nd","f":7000,"v":56},{"p":"f","s":"2nd","f":8500,"v":54},{"p":"f","s":"2nd","f":10000,"v":52},{"p":"f","s":"2nd","f":12500,"v":50},{"p":"f","s":"2nd","f":15000,"v":48},{"p":"f","s":"2nd","f":17500,"v":46},{"p":"f","s":"2nd","f":20000,"v":44},
{"p":"f","s":"3rd","f":20,"v":87},{"p":"f","s":"3rd","f":25,"v":89},{"p":"f","s":"3rd","f":30,"v":89},{"p":"f","s":"3rd","f":40,"v":87},{"p":"f","s":"3rd","f":50,"v":86},{"p":"f","s":"3rd","f":60,"v":85},{"p":"f","s":"3rd","f":70,"v":85},{"p":"f","s":"3rd","f":85,"v":86},{"p":"f","s":"3rd","f":100,"v":85},{"p":"f","s":"3rd","f":120,"v":85},{"p":"f","s":"3rd","f":150,"v":86},{"p":"f","s":"3rd","f":180,"v":86},{"p":"f","s":"3rd","f":200,"v":87},{"p":"f","s":"3rd","f":240,"v":86},{"p":"f","s":"3rd","f":250,"v":90},{"p":"f","s":"3rd","f":260,"v":84},{"p":"f","s":"3rd","f":300,"v":84},{"p":"f","s":"3rd","f":400,"v":84},{"p":"f","s":"3rd","f":500,"v":84},{"p":"f","s":"3rd","f":600,"v":83},{"p":"f","s":"3rd","f":700,"v":82},{"p":"f","s":"3rd","f":850,"v":81},{"p":"f","s":"3rd","f":1000,"v":80},{"p":"f","s":"3rd","f":1250,"v":79},{"p":"f","s":"3rd","f":1500,"v":78},{"p":"f","s":"3rd","f":2000,"v":76},{"p":"f","s":"3rd","f":2500,"v":75},{"p":"f","s":"3rd","f":3000,"v":73},{"p":"f","s":"3rd","f":4000,"v":71},{"p":"f","s":"3rd","f":5000,"v":70},{"p":"f","s":"3rd","f":6000,"v":67},{"p":"f","s":"3rd","f":7000,"v":65},{"p":"f","s":"3rd","f":8500,"v":62},{"p":"f","s":"3rd","f":10000,"v":60},{"p":"f","s":"3rd","f":12500,"v":56},{"p":"f","s":"3rd","f":15000,"v":53},{"p":"f","s":"3rd","f":17500,"v":50},{"p":"f","s":"3rd","f":20000,"v":47},
{"p":"f","s":"4th","f":20,"v":84},{"p":"f","s":"4th","f":25,"v":81},{"p":"f","s":"4th","f":30,"v":79},{"p":"f","s":"4th","f":40,"v":77},{"p":"f","s":"4th","f":50,"v":76},{"p":"f","s":"4th","f":60,"v":78},{"p":"f","s":"4th","f":70,"v":76},{"p":"f","s":"4th","f":85,"v":74},{"p":"f","s":"4th","f":100,"v":72},{"p":"f","s":"4th","f":120,"v":70},{"p":"f","s":"4th","f":150,"v":69},{"p":"f","s":"4th","f":180,"v":68},{"p":"f","s":"4th","f":200,"v":67},{"p":"f","s":"4th","f":240,"v":67},{"p":"f","s":"4th","f":250,"v":80},{"p":"f","s":"4th","f":260,"v":68},{"p":"f","s":"4th","f":300,"v":70},{"p":"f","s":"4th","f":400,"v":71},{"p":"f","s":"4th","f":500,"v":73},{"p":"f","s":"4th","f":600,"v":75},{"p":"f","s":"4th","f":700,"v":77},{"p":"f","s":"4th","f":850,"v":78},{"p":"f","s":"4th","f":1000,"v":79},{"p":"f","s":"4th","f":1250,"v":78},{"p":"f","s":"4th","f":1500,"v":77},{"p":"f","s":"4th","f":2000,"v":78},{"p":"f","s":"4th","f":2500,"v":75},{"p":"f","s":"4th","f":3000,"v":73},{"p":"f","s":"4th","f":4000,"v":72},{"p":"f","s":"4th","f":5000,"v":69},{"p":"f","s":"4th","f":6000,"v":67},{"p":"f","s":"4th","f":7000,"v":64},{"p":"f","s":"4th","f":8500,"v":60},{"p":"f","s":"4th","f":10000,"v":55},{"p":"f","s":"4th","f":12500,"v":51},{"p":"f","s":"4th","f":15000,"v":47},{"p":"f","s":"4th","f":17500,"v":45},{"p":"f","s":"4th","f":20000,"v":43}
]},
"concat":[
{"width":139,"height":109,"title":"(a)","transform":[{"filter":"datum.p==='a'"}],"mark":{"type":"line","strokeWidth":1,"clip":true},"encoding":{"x":{"field":"f","type":"quantitative","scale":{"type":"log","domain":[20,20000],"nice":false},"axis":{"title":"Frequency / Hz","values":[20,30,40,50,60,70,80,90,100,200,300,400,500,600,700,800,900,1000,2000,3000,4000,5000,6000,7000,8000,9000,10000,20000],"labelExpr":"datum.value==100?'10²':datum.value==1000?'10³':datum.value==10000?'10⁴':''","labelOverlap":false}},"y":{"field":"v","type":"quantitative","scale":{"domain":[20,120],"nice":false,"zero":false},"axis":{"title":"Sound pressure levels / dB","values":[20,30,40,50,60,70,80,90,100,110,120]}},"color":{"field":"s","type":"nominal","scale":{"domain":["1st","2nd","3rd","4th"],"range":["#f7197d","#111111","#f5845a","#12a34a"]},"legend":{"title":null}}}},
{"width":139,"height":109,"title":"(b)","transform":[{"filter":"datum.p==='b'"}],"mark":{"type":"line","strokeWidth":1,"clip":true},"encoding":{"x":{"field":"f","type":"quantitative","scale":{"type":"log","domain":[20,20000],"nice":false},"axis":{"title":"Frequency / Hz","values":[20,30,40,50,60,70,80,90,100,200,300,400,500,600,700,800,900,1000,2000,3000,4000,5000,6000,7000,8000,9000,10000,20000],"labelExpr":"datum.value==100?'10²':datum.value==1000?'10³':datum.value==10000?'10⁴':''","labelOverlap":false}},"y":{"field":"v","type":"quantitative","scale":{"domain":[20,120],"nice":false,"zero":false},"axis":{"title":"Sound pressure levels / dB","values":[20,30,40,50,60,70,80,90,100,110,120]}},"color":{"field":"s","type":"nominal","scale":{"domain":["1st","2nd","3rd","4th"],"range":["#f7197d","#111111","#f5845a","#12a34a"]},"legend":{"title":null}}}},
{"width":139,"height":109,"title":"(c)","transform":[{"filter":"datum.p==='c'"}],"mark":{"type":"line","strokeWidth":1,"clip":true},"encoding":{"x":{"field":"f","type":"quantitative","scale":{"type":"log","domain":[20,20000],"nice":false},"axis":{"title":"Frequency / Hz","values":[20,30,40,50,60,70,80,90,100,200,300,400,500,600,700,800,900,1000,2000,3000,4000,5000,6000,7000,8000,9000,10000,20000],"labelExpr":"datum.value==100?'10²':datum.value==1000?'10³':datum.value==10000?'10⁴':''","labelOverlap":false}},"y":{"field":"v","type":"quantitative","scale":{"domain":[20,120],"nice":false,"zero":false},"axis":{"title":"Sound pressure levels / dB","values":[20,30,40,50,60,70,80,90,100,110,120]}},"color":{"field":"s","type":"nominal","scale":{"domain":["1st","2nd","3rd","4th"],"range":["#f7197d","#111111","#f5845a","#12a34a"]},"legend":{"title":null}}}},
{"width":139,"height":109,"title":"(d)","transform":[{"filter":"datum.p==='d'"}],"mark":{"type":"line","strokeWidth":1,"clip":true},"encoding":{"x":{"field":"f","type":"quantitative","scale":{"type":"log","domain":[20,20000],"nice":false},"axis":{"title":"Frequency / Hz","values":[20,30,40,50,60,70,80,90,100,200,300,400,500,600,700,800,900,1000,2000,3000,4000,5000,6000,7000,8000,9000,10000,20000],"labelExpr":"datum.value==100?'10²':datum.value==1000?'10³':datum.value==10000?'10⁴':''","labelOverlap":false}},"y":{"field":"v","type":"quantitative","scale":{"domain":[20,120],"nice":false,"zero":false},"axis":{"title":"Sound pressure levels / dB","values":[20,30,40,50,60,70,80,90,100,110,120]}},"color":{"field":"s","type":"nominal","scale":{"domain":["1st","2nd","3rd","4th"],"range":["#f7197d","#111111","#f5845a","#12a34a"]},"legend":{"title":null}}}},
{"width":139,"height":109,"title":"(e)","transform":[{"filter":"datum.p==='e'"}],"mark":{"type":"line","strokeWidth":1,"clip":true},"encoding":{"x":{"field":"f","type":"quantitative","scale":{"type":"log","domain":[20,20000],"nice":false},"axis":{"title":"Frequency / Hz","values":[20,30,40,50,60,70,80,90,100,200,300,400,500,600,700,800,900,1000,2000,3000,4000,5000,6000,7000,8000,9000,10000,20000],"labelExpr":"datum.value==100?'10²':datum.value==1000?'10³':datum.value==10000?'10⁴':''","labelOverlap":false}},"y":{"field":"v","type":"quantitative","scale":{"domain":[20,120],"nice":false,"zero":false},"axis":{"title":"Sound pressure levels / dB","values":[20,30,40,50,60,70,80,90,100,110,120]}},"color":{"field":"s","type":"nominal","scale":{"domain":["1st","2nd","3rd","4th"],"range":["#f7197d","#111111","#f5845a","#12a34a"]},"legend":{"title":null}}}},
{"width":139,"height":109,"title":"(f)","transform":[{"filter":"datum.p==='f'"}],"mark":{"type":"line","strokeWidth":1,"clip":true},"encoding":{"x":{"field":"f","type":"quantitative","scale":{"type":"log","domain":[20,20000],"nice":false},"axis":{"title":"Frequency / Hz","values":[20,30,40,50,60,70,80,90,100,200,300,400,500,600,700,800,900,1000,2000,3000,4000,5000,6000,7000,8000,9000,10000,20000],"labelExpr":"datum.value==100?'10²':datum.value==1000?'10³':datum.value==10000?'10⁴':''","labelOverlap":false}},"y":{"field":"v","type":"quantitative","scale":{"domain":[20,120],"nice":false,"zero":false},"axis":{"title":"Sound pressure levels / dB","values":[20,30,40,50,60,70,80,90,100,110,120]}},"color":{"field":"s","type":"nominal","scale":{"domain":["1st","2nd","3rd","4th"],"range":["#f7197d","#111111","#f5845a","#12a34a"]},"legend":{"title":null}}}}
],
"config":{
"view":{"stroke":"#8a8a8a","strokeWidth":0.6},
"axis":{"labelFont":"Liberation Sans","labelFontSize":5,"labelColor":"#333333","titleFont":"Liberation Sans","titleFontSize":5.5,"titleFontWeight":"bold","titleColor":"#111111","gridColor":"#e4e4e4","gridWidth":0.5,"domainColor":"#8a8a8a","domainWidth":0.6,"ticks":false,"labelPadding":2,"titlePadding":3},
"axisY":{"labelPadding":4,"titlePadding":2},
"axisX":{"titleFontSize":6.5},
"legend":{"orient":"top-right","offset":2,"labelFont":"Liberation Sans","labelFontSize":5,"labelColor":"#333333","symbolType":"stroke","symbolSize":100,"symbolStrokeWidth":1.2,"symbolOpacity":0.6,"rowPadding":0,"padding":2,"fillColor":"white","strokeColor":"#999999","labelOffset":4},
"title":{"orient":"bottom","font":"Liberation Serif","fontSize":9,"fontWeight":"bold","color":"#111111","offset":16,"anchor":"middle"}
}
}
